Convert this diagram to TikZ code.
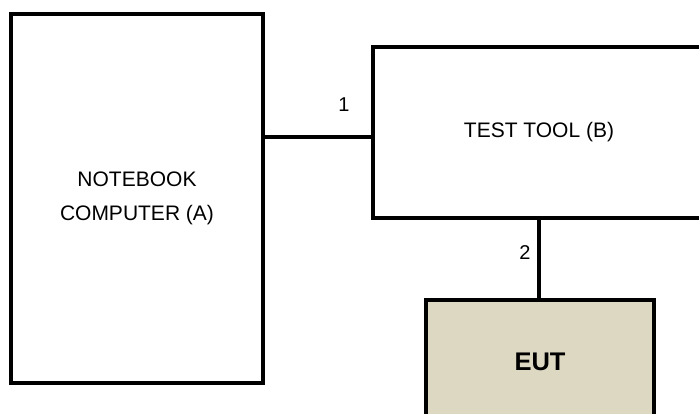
\documentclass[tikz,border=0pt]{standalone}
\usepackage{fontspec}
\setmainfont{Liberation Sans}
\usetikzlibrary{positioning,calc}
\definecolor{eutbg}{HTML}{DCD8C2}

\begin{document}
\begin{tikzpicture}[
    unitbox/.style={
        rectangle, draw=black, line width=3.4pt, fill=white,
        inner sep=0pt, align=center,
        font=\fontsize{21pt}{34pt}\selectfont
    },
    eutbox/.style={
        unitbox, fill=eutbg, font=\fontsize{25.5pt}{30pt}\selectfont\bfseries
    },
    link/.style={
        line width=3.4pt, draw=black
    },
    linklabel/.style={
        font=\fontsize{20pt}{22pt}\selectfont, inner sep=0pt
    }
]

% ==================== FRAME ====================
\clip (0pt, 0pt) rectangle (699pt, -414pt);

% ==================== UNITS ====================
\node[unitbox, minimum width=252pt, minimum height=369pt] (nb) at (137pt, -198.5pt) {NOTEBOOK\\COMPUTER (A)};
\node[unitbox, minimum width=332pt, minimum height=171pt] (tt) at (539pt, -132.5pt) {\raisebox{5pt}{TEST TOOL (B)}};
\node[eutbox, minimum width=228pt, minimum height=124pt] (eut) at (540pt, -362pt) {EUT};

% ==================== CONNECTORS ====================
\draw[link] ([yshift=-4.5pt]tt.west) -- ([yshift=-4.5pt]tt.west -| nb.east);
\draw[link] (tt.south) -- (tt.south |- eut.north);

\node[linklabel] (l1) at (344pt, -105pt) {1};
\node[linklabel] (l2) at (525pt, -253pt) {2};

\end{tikzpicture}
\end{document}
